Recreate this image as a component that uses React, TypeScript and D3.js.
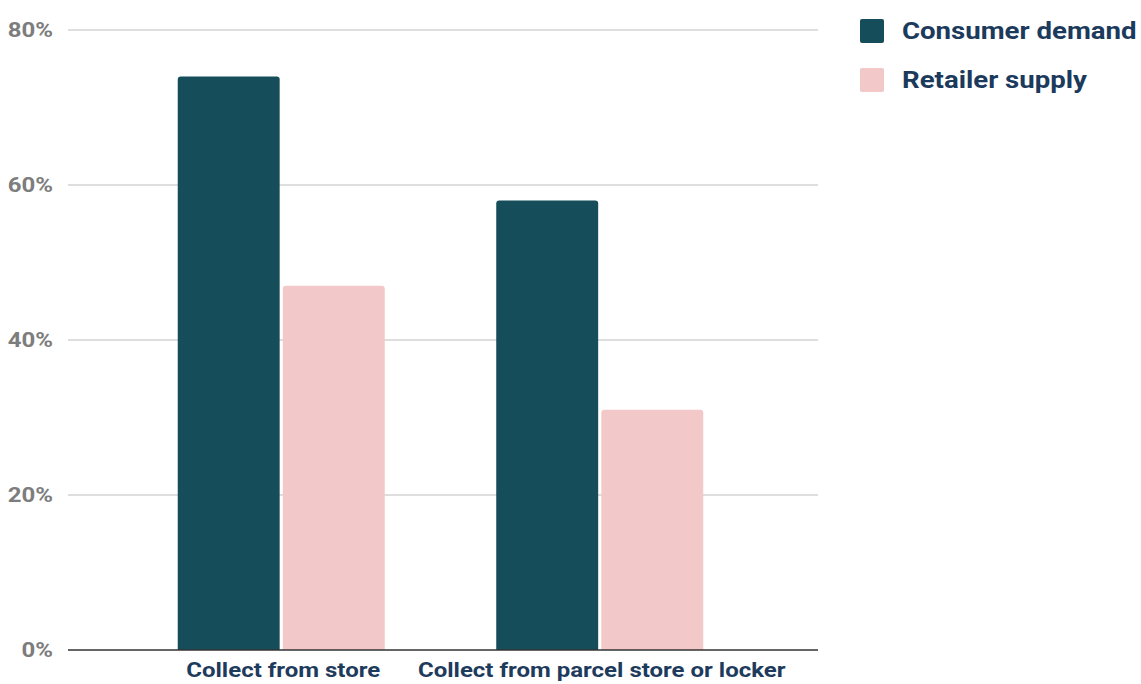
import React, { useEffect, useRef } from "react";
import * as d3 from "d3";

const categories = ["Collect from store", "Collect from parcel store or locker"];
const seriesNames = ["Consumer demand", "Retailer supply"];
const consumerDemand = [74, 58];
const retailerSupply = [47, 31];
const yTicks = [0, 20, 40, 60, 80];

const colors = ["#154e5a", "#f2c8c8"];

const App: React.FC = () => {
  const ref = useRef<SVGSVGElement>(null);

  useEffect(() => {
    if (!ref.current) return;
    const svg = d3.select(ref.current);
    svg.selectAll("*").remove();

    const font = "Roboto, 'Noto Sans', sans-serif";
    // the source text is a little wider than Roboto, so stretch it a bit
    const sx = 1.2;
    const gridLeft = 68;
    const gridRight = 818;

    const y = d3.scaleLinear().domain([0, 80]).range([650, 30]);

    const x0 = d3
      .scaleBand()
      .domain(categories)
      .range([122, 759])
      .paddingInner(0.35)
      .paddingOuter(0.175);

    const x1 = d3
      .scaleBand()
      .domain(seriesNames)
      .range([0, x0.bandwidth()])
      .paddingInner(0.03);

    // grid lines
    svg
      .append("g")
      .selectAll("line")
      .data(yTicks.filter((t) => t > 0))
      .enter()
      .append("line")
      .attr("x1", gridLeft)
      .attr("x2", gridRight)
      .attr("y1", (d) => y(d))
      .attr("y2", (d) => y(d))
      .attr("stroke", "#bdbdbd")
      .attr("stroke-width", 1.2);

    // y labels
    svg
      .append("g")
      .selectAll("text")
      .data(yTicks)
      .enter()
      .append("text")
      .attr("transform", (d) => `translate(53,${y(d)}) scale(${sx},1)`)
      .attr("dy", "0.35em")
      .attr("text-anchor", "end")
      .attr("fill", "#7d7d7d")
      .style("font-family", font)
      .style("font-weight", "bold")
      .style("font-size", "20px")
      .text((d) => `${d}%`);

    const rows = categories.map((c, i) => ({
      cat: c,
      values: [consumerDemand[i], retailerSupply[i]],
    }));

    const r = 3;
    const barPath = (bx: number, by: number, bw: number, bh: number) =>
      `M${bx},${by + bh}V${by + r}Q${bx},${by} ${bx + r},${by}H${bx + bw - r}Q${bx + bw},${by} ${bx + bw},${by + r}V${by + bh}Z`;

    const groups = svg
      .append("g")
      .selectAll("g")
      .data(rows)
      .enter()
      .append("g")
      .attr("transform", (d) => `translate(${x0(d.cat)},0)`);

    groups
      .selectAll("path")
      .data((d) => d.values.map((v, i) => ({ v, s: seriesNames[i], i })))
      .enter()
      .append("path")
      .attr("d", (d) => barPath(x1(d.s) || 0, y(d.v), x1.bandwidth(), y(0) - y(d.v)))
      .attr("fill", (d) => colors[d.i]);

    // baseline
    svg
      .append("line")
      .attr("x1", gridLeft)
      .attr("x2", gridRight)
      .attr("y1", y(0))
      .attr("y2", y(0))
      .attr("stroke", "#333")
      .attr("stroke-width", 1.3);

    // x labels
    svg
      .append("g")
      .selectAll("text")
      .data(categories)
      .enter()
      .append("text")
      .attr("transform", (d) => `translate(${(x0(d) || 0) + x0.bandwidth() / 2 + 2},670) scale(${sx},1)`)
      .attr("dy", "0.35em")
      .attr("text-anchor", "middle")
      .attr("fill", "#1e3a5c")
      .style("font-family", font)
      .style("font-weight", "bold")
      .style("font-size", "20px")
      .text((d) => d);

    // legend
    const legend = svg
      .append("g")
      .selectAll("g")
      .data(seriesNames)
      .enter()
      .append("g")
      .attr("transform", (d, i) => `translate(860,${31 + i * 49})`);

    legend
      .append("rect")
      .attr("x", 0)
      .attr("y", -12)
      .attr("width", 24)
      .attr("height", 24)
      .attr("rx", 2)
      .attr("fill", (d, i) => colors[i]);

    legend
      .append("text")
      .attr("transform", `translate(42,0) scale(${sx},1)`)
      .attr("dy", "0.35em")
      .attr("fill", "#1b3a5c")
      .style("font-family", font)
      .style("font-weight", "bold")
      .style("font-size", "23px")
      .text((d) => d);
  }, []);

  return (
    <svg
      ref={ref}
      width={1141}
      height={684}
      style={{ position: "absolute", left: 0, top: 0, background: "#fff" }}
    />
  );
};

export default App;
